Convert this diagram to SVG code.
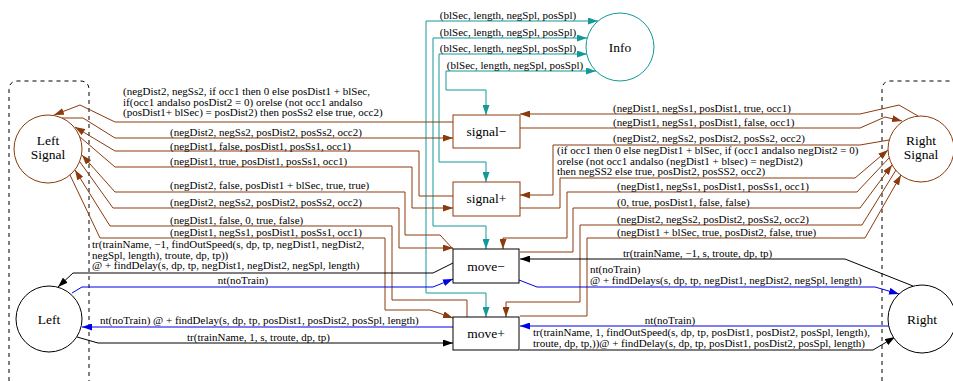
<svg xmlns="http://www.w3.org/2000/svg" width="953" height="381" viewBox="0 0 953 381">
<style>
  text { font-family: "Liberation Serif", "Times New Roman", serif; }
  .lbl { font-size: 11px; }
  .node { font-size: 13.5px; text-anchor: middle; }
  .br { fill: none; stroke: #8b3a0c; stroke-width: 1; marker-end: url(#aBr); }
  .te { fill: none; stroke: #149898; stroke-width: 1; marker-start: url(#aTe); marker-end: url(#aTe); }
  .bk { fill: none; stroke: #000; stroke-width: 1; marker-end: url(#aBk); }
  .bl { fill: none; stroke: #0000e6; stroke-width: 1; marker-end: url(#aBl); }
  .dash { fill: none; stroke: #000; stroke-width: 1; stroke-dasharray: 4 4; }
</style>
<defs>
  <marker id="aBr" markerUnits="userSpaceOnUse" markerWidth="10" markerHeight="7" refX="10" refY="3.5" orient="auto"><path d="M0,0 L10,3.5 L0,7 z" fill="#8b3a0c"/></marker>
  <marker id="aTe" markerUnits="userSpaceOnUse" markerWidth="10" markerHeight="7" refX="10" refY="3.5" orient="auto-start-reverse"><path d="M0,0 L10,3.5 L0,7 z" fill="#149898"/></marker>
  <marker id="aBk" markerUnits="userSpaceOnUse" markerWidth="10" markerHeight="7" refX="10" refY="3.5" orient="auto"><path d="M0,0 L10,3.5 L0,7 z" fill="#000"/></marker>
  <marker id="aBl" markerUnits="userSpaceOnUse" markerWidth="10" markerHeight="7" refX="10" refY="3.5" orient="auto"><path d="M0,0 L10,3.5 L0,7 z" fill="#0000e6"/></marker>
</defs>
<rect width="953" height="381" fill="#fff"/>

<!-- block boundaries -->
<path class="dash" d="M9,381 V90 Q9,81 18,81 H80 Q89,81 89,90 V381"/>
<path class="dash" d="M882,381 V90 Q882,81 891,81 H953"/>

<g id="connectors">
  <!-- Info double arcs -->
  <path class="te" d="M598,21 H426 V293 H486 V317"/>
  <path class="te" d="M587,38 H433 V226 H486 V249"/>
  <path class="te" d="M587,54 H439 V162 H486 V182"/>
  <path class="te" d="M596,71 H446 V90 H486 V115"/>
  <g class="lbl" fill="#000" text-anchor="middle">
    <text x="508" y="18.5">(blSec, length, negSpl, posSpl)</text>
    <text x="508" y="35.5">(blSec, length, negSpl, posSpl)</text>
    <text x="508" y="51.5">(blSec, length, negSpl, posSpl)</text>
    <text x="515" y="68.5">(blSec, length, negSpl, posSpl)</text>
  </g>

  <!-- Left Signal arcs -->
  <path class="br" d="M453,122 H115 L80,105 L54,115"/>
  <path class="br" d="M62,118 H83 L115,138 H453"/>
  <path class="br" d="M453,196 H419 V151 H115 L75,127"/>
  <path class="br" d="M80,137 L115,167 H412 V208 H453"/>
  <path class="br" d="M453,249 L440,235 H405 V192 H115 L82,155"/>
  <path class="br" d="M80,162 L113,208 H399 V248 H453"/>
  <path class="br" d="M467,317 V300 H392 V226 H110 L75,170"/>
  <path class="br" d="M70,175 L100,238 H385 V310 H430 L453,318"/>
  <g class="lbl" fill="#000">
    <text x="123" y="95">(negDist2, negSs2, if occ1 then 0 else posDist1 + blSec,</text>
    <text x="123" y="105.5">if(occ1 andalso posDist2 = 0) orelse (not occ1 andalso</text>
    <text x="123" y="116">(posDist1+ blSec) = posDist2) then posSs2 else true, occ2)</text>
    <text x="170" y="135.5">(negDist2, negSs2, posDist2, posSs2, occ2)</text>
    <text x="170" y="149.5">(negDist1, false, posDist1, posSs1, occ1)</text>
    <text x="170" y="165">(negDist1, true, posDist1, posSs1, occ1)</text>
    <text x="170" y="188.5">(negDist2, false, posDist1 + blSec, true, true)</text>
    <text x="170" y="206">(negDist2, negSs2, posDist2, posSs2, occ2)</text>
    <text x="170" y="223.5">(negDist1, false, 0, true, false)</text>
    <text x="170" y="236">(negDist1, negSs1, posDist1, posSs1, occ1)</text>
  </g>

  <!-- Right Signal arcs -->
  <path class="br" d="M918,116 L899,105 L860,114 H520"/>
  <path class="br" d="M520,128 H860 L885,117 L902,121"/>
  <path class="br" d="M889,140 L860,145 H553 V195 H520"/>
  <path class="br" d="M520,208 H560 V178 H855 L888,150"/>
  <path class="br" d="M889,158 L857,192 H567 V238 H503 V249"/>
  <path class="br" d="M520,252 H573 V208 H860 L892,165"/>
  <path class="br" d="M896,170 L862,225 H580 V302 H506 V317"/>
  <path class="br" d="M520,316 H587 V238 H865 L901,175"/>
  <g class="lbl" fill="#000">
    <text x="613" y="111.5">(negDist1, negSs1, posDist1, true, occ1)</text>
    <text x="613" y="125.5">(negDist1, negSs1, posDist1, false, occ1)</text>
    <text x="613" y="142">(negDist2, negSs2, posDist2, posSs2, occ2)</text>
    <text x="557" y="154">(if occ1 then 0 else negDist1 + blSec, if (occ1 andalso negDist2 = 0)</text>
    <text x="557" y="164.5">orelse (not occ1 andalso (negDist1 + blsec) = negDist2)</text>
    <text x="557" y="175">then negSS2 else true, posDist2, posSS2, occ2)</text>
    <text x="617" y="189.5">(negDist1, negSs1, posDist1, posSs1, occ1)</text>
    <text x="617" y="205.5">(0, true, posDist1, false, false)</text>
    <text x="617" y="222.5">(negDist2, negSs2, posDist2, posSs2, occ2)</text>
    <text x="617" y="235.5">(negDist1 + blSec, true, posDist2, false, true)</text>
  </g>

  <!-- train and no-train arcs -->
  <path class="bk" d="M453,263 L433,273 H73 L58,287"/>
  <path class="bl" d="M72,293 L82,287 H433 L453,279"/>
  <path class="bk" d="M913,286 L845,259 H520"/>
  <path class="bl" d="M519,280 L537,287 H875 L899,294"/>
  <path class="bl" d="M453,327 H82"/>
  <path class="bk" d="M77,337 L98,343 H453"/>
  <path class="bl" d="M889,326 H520"/>
  <path class="bk" d="M520,350 H873 L895,337"/>
  <g class="lbl" fill="#000">
    <text x="92" y="248">tr(trainName, −1, findOutSpeed(s, dp, tp, negDist1, negDist2,</text>
    <text x="92" y="258.5">negSpl, length), troute, dp, tp))</text>
    <text x="92" y="269">@ + findDelay(s, dp, tp, negDist1, negDist2, negSpl, length)</text>
    <text x="243" y="283.5" text-anchor="middle">nt(noTrain)</text>
    <text x="623" y="256.5">tr(trainName, −1, s, troute, dp, tp)</text>
    <text x="590" y="273">nt(noTrain)</text>
    <text x="590" y="283.5">@ + findDelays(s, dp, tp, negDist1, negDist2, negSpl, length)</text>
    <text x="100" y="323.5">nt(noTrain) @ + findDelay(s, dp, tp, posDist1, posDist2, posSpl, length)</text>
    <text x="187" y="340.5">tr(trainName, 1, s, troute, dp, tp)</text>
    <text x="670" y="323.5" text-anchor="middle">nt(noTrain)</text>
    <text x="533" y="336">tr(trainName, 1, findOutSpeed(s, dp, tp, posDist1, posDist2, posSpl, length),</text>
    <text x="533" y="346.5">troute, dp, tp,))@ + findDelay(s, dp, tp, posDist1, posDist2, posSpl, length)</text>
  </g>
</g>

<g id="Info">
  <circle cx="620" cy="47" r="34" fill="#fff" stroke="#149898"/>
  <text class="node" x="620" y="52">Info</text>
</g>
<g id="LeftSignal">
  <circle cx="48" cy="149" r="34" fill="#fff" stroke="#8b3a0c"/>
  <text class="node" x="48" y="145">Left</text>
  <text class="node" x="48" y="158.5">Signal</text>
</g>
<g id="RightSignal">
  <circle cx="921" cy="149" r="33" fill="#fff" stroke="#8b3a0c"/>
  <text class="node" x="921" y="145">Right</text>
  <text class="node" x="921" y="158.5">Signal</text>
</g>
<g id="Left">
  <circle cx="49" cy="319" r="33" fill="#fff" stroke="#000"/>
  <text class="node" x="49" y="324">Left</text>
</g>
<g id="Right">
  <circle cx="922" cy="319" r="34" fill="#fff" stroke="#000"/>
  <text class="node" x="922" y="324">Right</text>
</g>
<g id="signalMinus">
  <rect x="453" y="115" width="67" height="33" fill="#fff" stroke="#8b3a0c"/>
  <text class="node" x="486.5" y="136">signal−</text>
</g>
<g id="signalPlus">
  <rect x="453" y="182" width="67" height="34" fill="#fff" stroke="#8b3a0c"/>
  <text class="node" x="486.5" y="203">signal+</text>
</g>
<g id="moveMinus">
  <rect x="453" y="249" width="66" height="34" fill="#fff" stroke="#000"/>
  <text class="node" x="486" y="270.5">move−</text>
</g>
<g id="movePlus">
  <rect x="453" y="317" width="66" height="33" fill="#fff" stroke="#000"/>
  <text class="node" x="486" y="337.5">move+</text>
</g>
</svg>
